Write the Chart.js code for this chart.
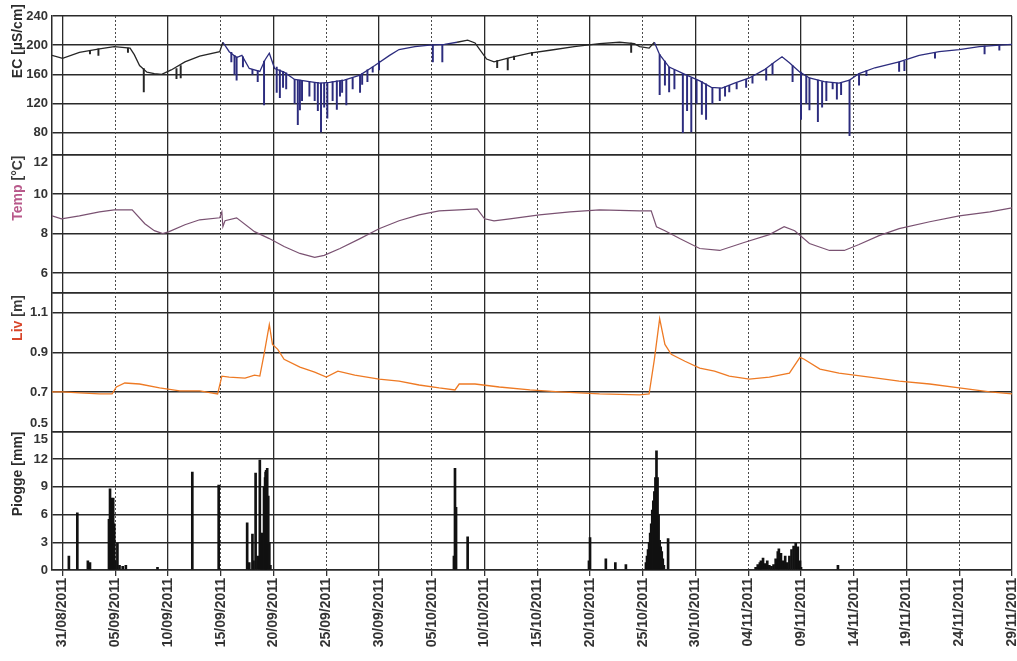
<!DOCTYPE html>
<html>
<head>
<meta charset="utf-8">
<script src="https://cdn.jsdelivr.net/npm/chart.js@4.4.1/dist/chart.umd.min.js"></script>
<style>
  html, body { margin: 0; padding: 0; background: #ffffff; }
  canvas { display: block; }
</style>
</head>
<body>
<canvas id="chart" width="1017" height="661"></canvas>
<script>
// Time axis: days counted from 31/08/2011
const dateTicks = [0, 5, 10, 15, 20, 25, 30, 35, 40, 45, 50, 55, 60, 65, 70, 75, 80, 85, 90];
const dateLabels = ['31/08/2011', '05/09/2011', '10/09/2011', '15/09/2011', '20/09/2011', '25/09/2011',
  '30/09/2011', '05/10/2011', '10/10/2011', '15/10/2011', '20/10/2011', '25/10/2011', '30/10/2011',
  '04/11/2011', '09/11/2011', '14/11/2011', '19/11/2011', '24/11/2011', '29/11/2011'];
const dottedTicks = [5, 15, 25, 35, 45, 55, 65, 75, 85];

// Electrical conductivity [µS/cm]
const ecDays = [-1.0, 0.0, 1.6, 3.5, 4.9, 6.4, 6.8, 7.3, 8.0, 8.7, 9.4, 10.3, 11.6, 13.0, 14.9, 15.2, 15.8, 16.5,
  17.0, 17.7, 18.7, 19.2, 19.6, 20.1, 21.0, 22.0, 23.4, 24.4, 25.3, 26.7, 28.2, 29.6, 31.0, 31.9, 33.4, 34.8, 36.2,
  37.4, 38.4, 39.1, 39.5, 40.2, 40.9, 42.4, 44.3, 46.2, 48.5, 50.9, 52.8, 54.2, 54.7, 55.6, 56.1, 56.6, 57.5, 59.0,
  60.4, 61.5, 62.5, 63.7, 65.1, 66.5, 67.5, 68.2, 68.9, 69.9, 70.8, 72.2, 73.6, 74.6, 75.5, 77.0, 79.3, 81.2, 83.1,
  85.0, 86.9, 88.8, 90.0];
const ecValues = [186, 182, 190, 195, 198, 196, 187, 172, 163, 161, 160, 166, 177, 185, 191, 204, 191, 183,
  186, 168, 164, 180, 189, 168, 163, 153, 150, 148, 149, 152, 159, 172, 186, 194, 198, 200, 201,
  204, 207, 203, 195, 181, 177, 183, 189, 193, 198, 202, 204, 202, 198, 196, 204, 187, 170, 160,
  151, 142, 141, 148, 155, 166, 177, 184, 176, 163, 155, 150, 148, 152, 161, 169, 177, 186, 191,
  194, 198, 200, 201];
// Short conductivity drops: day, lowest value, value before the drop
const ecDipDays = [2.6, 3.4, 6.2, 7.7, 10.8, 11.2, 16.0, 16.3, 16.5, 17.1, 18.0, 18.5, 19.1, 20.3, 20.6, 20.9, 21.2,
  22.0, 22.3, 22.5, 22.7, 23.4, 23.9, 24.2, 24.5, 24.8, 25.1, 25.6, 26.0, 26.3, 26.5, 26.9, 27.5, 28.2, 28.4, 28.9,
  29.4, 30.0, 35.1, 36.0, 41.2, 42.2, 42.8, 44.5, 53.9, 56.6, 57.1, 57.5, 58.0, 58.8, 59.2, 59.6, 60.1, 60.6, 61.0,
  61.6, 62.3, 62.8, 63.2, 63.9, 64.8, 65.4, 66.7, 67.3, 69.2, 70.0, 70.5, 70.8, 71.6, 72.0, 72.4, 73.0, 73.4, 73.8,
  74.6, 75.5, 76.2, 79.3, 79.8, 82.7, 87.4, 88.8];
const ecDipLow = [188, 186, 190, 136, 154, 155, 177, 160, 152, 170, 160, 150, 118, 135, 128, 142, 140,
  120, 91, 111, 124, 130, 124, 110, 81, 115, 100, 124, 112, 130, 135, 118, 140, 135, 146, 150,
  163, 166, 177, 177, 169, 166, 180, 186, 190, 132, 145, 136, 140, 80, 110, 81, 120, 105, 98,
  120, 124, 130, 136, 140, 142, 148, 152, 160, 150, 98, 120, 111, 95, 115, 124, 140, 126, 132,
  76, 145, 158, 164, 165, 182, 188, 193];
const ecDipHigh = [192, 195, 196, 168, 168, 172, 190, 186, 184, 184, 167, 165, 178, 170, 166, 164, 162,
  153, 152, 152, 151, 150, 149, 149, 148, 148, 149, 150, 151, 151, 152, 153, 155, 159, 161, 166,
  170, 178, 200, 201, 179, 182, 185, 190, 203, 187, 178, 170, 166, 161, 158, 155, 152, 150, 147,
  142, 141, 143, 145, 148, 153, 157, 168, 175, 172, 163, 158, 155, 152, 150, 150, 149, 148, 149,
  152, 161, 165, 177, 178, 190, 199, 200];

// Water temperature [°C]
const tempDays = [-1.0, -0.1, 1.6, 3.5, 4.9, 6.6, 7.8, 8.7, 9.5, 10.1, 11.6, 13.0, 14.9, 15.1, 15.2, 15.4, 16.5,
  18.2, 19.6, 21.0, 22.5, 23.9, 24.8, 26.3, 28.2, 30.0, 31.9, 33.8, 35.7, 37.6, 39.3, 40.0, 40.9, 42.4, 45.2, 48.1,
  50.9, 54.7, 55.8, 56.3, 57.1, 58.5, 60.4, 62.3, 64.6, 67.0, 68.4, 69.4, 70.8, 72.7, 74.1, 75.5, 77.4, 79.3, 82.2,
  85.0, 87.9, 90.0];
const tempValues = [8.9, 8.75, 8.9, 9.1, 9.2, 9.2, 8.5, 8.15, 8.0, 8.1, 8.45, 8.7, 8.8, 9.1, 8.35, 8.65, 8.8,
  8.1, 7.75, 7.35, 7.0, 6.8, 6.9, 7.25, 7.75, 8.25, 8.65, 8.95, 9.15, 9.2, 9.25, 8.75, 8.65, 8.75, 8.95, 9.1,
  9.2, 9.15, 9.15, 8.35, 8.15, 7.75, 7.25, 7.15, 7.55, 7.95, 8.35, 8.15, 7.5, 7.15, 7.15, 7.45, 7.9, 8.25, 8.6,
  8.9, 9.1, 9.3];

// Water level [m]
const livDays = [-1.0, 0.0, 1.6, 3.5, 4.7, 5.1, 5.9, 7.3, 9.2, 11.1, 13.0, 14.7, 15.1, 15.8, 17.3, 18.2, 18.7,
  19.1, 19.6, 19.9, 20.4, 21.0, 22.5, 23.9, 25.0, 26.1, 27.7, 30.0, 31.9, 33.8, 35.7, 37.2, 37.6, 39.1, 41.4, 44.3,
  47.1, 50.9, 54.7, 55.6, 56.1, 56.6, 57.1, 57.7, 59.0, 60.4, 61.8, 63.2, 65.1, 67.0, 68.9, 69.9, 70.3, 71.8, 73.6,
  76.5, 79.3, 82.2, 85.0, 87.9, 90.0];
const livValues = [0.70, 0.70, 0.695, 0.69, 0.69, 0.725, 0.745, 0.74, 0.72, 0.705, 0.705, 0.69, 0.78, 0.775, 0.77,
  0.785, 0.78, 0.89, 1.04, 0.94, 0.915, 0.865, 0.825, 0.80, 0.775, 0.805, 0.785, 0.765, 0.755, 0.735, 0.72, 0.71,
  0.74, 0.74, 0.725, 0.71, 0.70, 0.69, 0.685, 0.69, 0.865, 1.07, 0.94, 0.89, 0.855, 0.82, 0.805, 0.78, 0.765,
  0.775, 0.795, 0.875, 0.865, 0.815, 0.795, 0.775, 0.755, 0.74, 0.72, 0.70, 0.69];

// Rainfall [mm]
const rainDays = [0.6, 1.4, 2.4, 2.6, 4.4, 4.5, 4.6, 4.7, 4.8, 4.9, 5.0, 5.2, 5.4, 5.7, 6.0, 9.0, 12.3, 14.8,
  17.5, 17.7, 18.0, 18.1, 18.3, 18.5, 18.7, 18.8, 18.9, 19.0, 19.1, 19.2, 19.25, 19.3, 19.4, 19.5, 19.6, 19.7,
  37.1, 37.2, 37.3, 38.4, 49.9, 50.0, 51.5, 52.4, 53.4, 55.3, 55.4, 55.5, 55.6, 55.7, 55.8, 55.9, 56.0, 56.1,
  56.2, 56.3, 56.4, 56.5, 56.6, 56.7, 56.8, 56.9, 57.0, 57.4, 65.7, 65.9, 66.1, 66.2, 66.4, 66.6, 66.8, 67.0,
  67.2, 67.4, 67.6, 67.8, 67.9, 68.1, 68.3, 68.5, 68.7, 68.9, 69.1, 69.3, 69.5, 69.7, 69.9, 70.0, 73.5];
const rainMm = [1.5, 6.2, 1.0, 0.8, 5.5, 8.8, 7.8, 7.6, 7.8, 5.0, 1.0, 2.9, 0.5, 0.4, 0.5, 0.3, 10.6, 9.2,
  5.1, 0.8, 3.9, 1.0, 10.5, 1.5, 11.9, 4.0, 3.0, 4.0, 9.0, 10.0, 10.6, 10.8, 11.0, 8.0, 3.0, 0.5,
  1.5, 11.0, 6.8, 3.6, 1.0, 3.5, 1.2, 0.8, 0.6, 0.8, 1.5, 2.2, 3.0, 4.0, 5.0, 6.5, 7.5, 8.5,
  10.0, 12.9, 10.0, 6.0, 3.2, 2.5, 2.0, 1.2, 0.5, 3.4, 0.3, 0.6, 0.8, 1.0, 1.3, 0.7, 1.0, 0.5,
  0.4, 0.6, 1.2, 2.0, 2.3, 1.8, 1.0, 1.5, 0.8, 1.5, 2.2, 2.6, 2.9, 2.5, 1.0, 0.3, 0.5];

// Panel ticks and their printed labels
const ecTicks = [50, 80, 120, 160, 200, 240];
const ecTickLabels = ['', '80', '120', '160', '200', '240'];
const tempTicks = [5, 6, 8, 10, 12];
const tempTickLabels = ['', '6', '8', '10', ['', '12']];
const livTicks = [0.5, 0.7, 0.9, 1.1, 1.2];
const livTickLabels = [['0.5', ''], '0.7', '0.9', '1.1', ''];
const rainTicks = [0, 3, 6, 9, 12, 15];
const rainTickLabels = ['0', '3', '6', '9', '12', ['', '15']];

const FONT = '"Liberation Sans", Arial, sans-serif';
const GRID = '#2a2a2a';
const NAVY = '#2c2c7e';
const DARK = '#262626';

const ecColorAt = d => ((d >= 15 && d < 36.5) || d >= 55.8) ? NAVY : DARK;
const pts = (xs, ys) => xs.map((x, i) => ({x, y: ys[i]}));

function panelAxis(min, max, ticks, labels) {
  return {
    type: 'linear', position: 'left', stack: 'panels', stackWeight: 1,
    min, max,
    afterBuildTicks: s => { s.ticks = ticks.map(v => ({value: v})); },
    afterFit: s => { s.width = 52; s.paddingTop = 0; s.paddingBottom = 0; },
    grid: {color: GRID, lineWidth: 1.6, drawTicks: false},
    border: {display: true, color: GRID, width: 1.5},
    ticks: {
      autoSkip: false, padding: 4, color: '#333',
      font: {family: FONT, size: 13, weight: 'bold'},
      callback: (v, i) => labels[i]
    }
  };
}

// Rotated axis titles with coloured variable names
const titleDefs = [
  {axis: 'yEc', shift: -12, parts: [{text: 'EC [µS/cm]', color: '#2b2b2b'}]},
  {axis: 'yTemp', shift: 1, parts: [{text: 'Temp', color: '#b8588a'}, {text: ' [°C]', color: '#3a3a3a'}]},
  {axis: 'yLiv', shift: 2, parts: [{text: 'Liv', color: '#d8452a'}, {text: ' [m]', color: '#3a3a3a'}]},
  {axis: 'yRain', shift: 0, parts: [{text: 'Piogge [mm]', color: '#2b2b2b'}]}
];
const axisTitles = {
  id: 'axisTitles',
  afterDraw(chart) {
    const ctx = chart.ctx;
    ctx.save();
    ctx.font = 'bold 14px ' + FONT;
    ctx.textBaseline = 'middle';
    ctx.textAlign = 'left';
    for (const t of titleDefs) {
      const s = chart.scales[t.axis];
      const total = t.parts.reduce((w, p) => w + ctx.measureText(p.text).width, 0);
      ctx.save();
      ctx.translate(18, s.top + t.shift + total);
      ctx.rotate(-Math.PI / 2);
      let x = 0;
      for (const p of t.parts) {
        ctx.fillStyle = p.color;
        ctx.fillText(p.text, x, 0);
        x += ctx.measureText(p.text).width;
      }
      ctx.restore();
    }
    ctx.restore();
  }
};

new Chart(document.getElementById('chart'), {
  type: 'line',
  data: {
    datasets: [
      {
        type: 'bar', yAxisID: 'yRain', xAxisID: 'x', grouped: false,
        data: pts(rainDays, rainMm),
        backgroundColor: '#111111', borderWidth: 0, barThickness: 2
      },
      {
        type: 'line', yAxisID: 'yLiv', xAxisID: 'x',
        data: pts(livDays, livValues),
        borderColor: '#ee7a24', borderWidth: 1.3, pointRadius: 0, tension: 0
      },
      {
        type: 'line', yAxisID: 'yTemp', xAxisID: 'x',
        data: pts(tempDays, tempValues),
        borderColor: '#7a5272', borderWidth: 1.2, pointRadius: 0, tension: 0
      },
      {
        type: 'bar', yAxisID: 'yEc', xAxisID: 'x', grouped: false,
        data: ecDipDays.map((d, i) => ({x: d, y: [ecDipLow[i], ecDipHigh[i]]})),
        backgroundColor: c => ecColorAt(c.raw ? c.raw.x : 0), borderWidth: 0, barThickness: 1.3
      },
      {
        type: 'line', yAxisID: 'yEc', xAxisID: 'x',
        data: pts(ecDays, ecValues),
        borderColor: DARK, borderWidth: 1.3, pointRadius: 0, tension: 0,
        segment: {borderColor: c => ecColorAt(c.p0.parsed.x)}
      }
    ]
  },
  options: {
    responsive: false,
    animation: false,
    devicePixelRatio: 1,
    layout: {padding: {top: 16, right: 5, left: 0, bottom: 0}},
    plugins: {legend: {display: false}, tooltip: {enabled: false}},
    scales: {
      yRain: panelAxis(0, 15, rainTicks, rainTickLabels),
      yLiv: panelAxis(0.5, 1.2, livTicks, livTickLabels),
      yTemp: panelAxis(5, 12, tempTicks, tempTickLabels),
      yEc: panelAxis(50, 240, ecTicks, ecTickLabels),
      x: {
        type: 'linear', position: 'bottom', min: -1, max: 90, offset: false,
        afterBuildTicks: s => { s.ticks = dateTicks.map(v => ({value: v})); },
        afterFit: s => { s.height = 91; s.paddingRight = 0; s.paddingLeft = 0; },
        grid: {
          offset: false,
          color: c => (c.tick && c.tick.value % 10 === 0) ? GRID : 'rgba(0,0,0,0)',
          lineWidth: 1.3, tickLength: 6, tickColor: '#333', tickWidth: 1.3
        },
        border: {display: true, color: GRID, width: 1.5},
        ticks: {
          autoSkip: false, maxRotation: 90, minRotation: 90, padding: 2, color: '#333',
          font: {family: FONT, size: 14, weight: 'bold'},
          callback: (v, i) => dateLabels[i]
        }
      },
      xDots: {
        type: 'linear', position: 'bottom', min: -1, max: 90, offset: false,
        afterBuildTicks: s => { s.ticks = dottedTicks.map(v => ({value: v})); },
        afterFit: s => { s.height = 0; s.paddingRight = 0; s.paddingLeft = 0; },
        grid: {color: '#4a4a4a', lineWidth: 1, drawTicks: false, offset: false},
        border: {display: false, dash: [2, 2]},
        ticks: {display: false}
      }
    }
  },
  plugins: [axisTitles]
});
</script>
</body>
</html>
